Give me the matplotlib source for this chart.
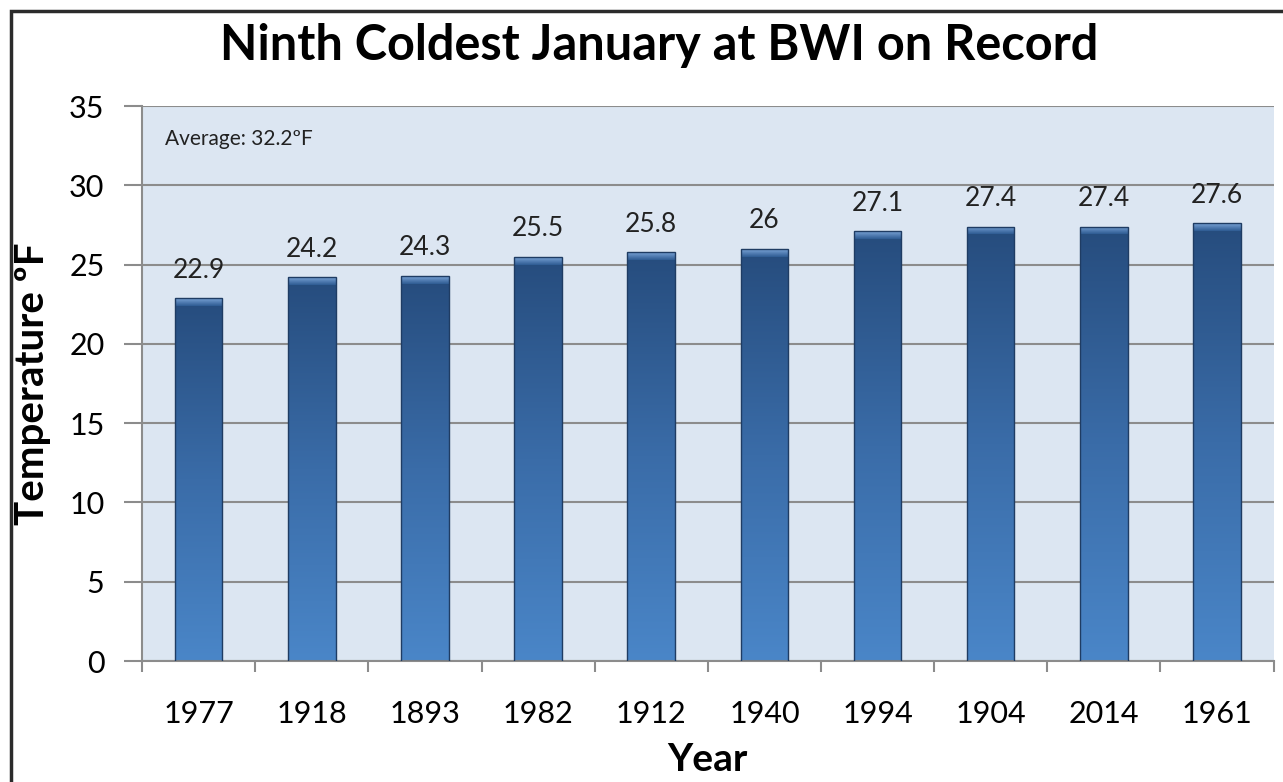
import numpy as np
import matplotlib
matplotlib.use("Agg")
import matplotlib.pyplot as plt
from matplotlib.patches import Rectangle
from matplotlib.colors import LinearSegmentedColormap

plt.rcParams['font.family'] = ['Lato', 'DejaVu Sans']

years = ["1977", "1918", "1893", "1982", "1912", "1940", "1994", "1904", "2014", "1961"]
temps = [22.9, 24.2, 24.3, 25.5, 25.8, 26, 27.1, 27.4, 27.4, 27.6]
labels = ["22.9", "24.2", "24.3", "25.5", "25.8", "26", "27.1", "27.4", "27.4", "27.6"]
yticks = [0, 5, 10, 15, 20, 25, 30, 35]

fig = plt.figure(figsize=(12.83, 7.82), dpi=100)
ax = fig.add_axes([0.1107, 0.1547, 0.882, 0.7097])
ax.set_facecolor("#dce6f2")

# figure frame (runs off the right / bottom edge like the original)
fig.patches.append(Rectangle((11 / 1283, -0.05), 1.1, 1 - 11 / 782 + 0.05,
                             transform=fig.transFigure, fill=False,
                             ec="#2b2b2b", lw=2.5, zorder=0))

cmap = LinearSegmentedColormap.from_list("bar", ["#4a86c8", "#3a6ca8", "#264c7d"])
grad = np.linspace(0, 1, 256).reshape(-1, 1)

x = np.arange(len(years))
bars = ax.bar(x, temps, width=0.42, color="none", edgecolor="#1f3c63",
              linewidth=1.0, zorder=3)
for b in bars:
    bx, by = b.get_x(), b.get_y()
    w, h = b.get_width(), b.get_height()
    im = ax.imshow(grad, cmap=cmap, aspect="auto", origin="lower",
                   extent=[bx, bx + w, by, by + h], zorder=2)
    im.set_clip_path(b)
    # lighter bevel at the top of each bar
    top = ax.imshow(np.linspace(0, 1, 32).reshape(-1, 1), aspect="auto",
                    origin="lower", extent=[bx, bx + w, by + h - 0.5, by + h],
                    cmap=LinearSegmentedColormap.from_list("t", ["#2f5c93", "#7aa3d6"]),
                    zorder=2.5)
    top.set_clip_path(b)

for xi, t, lab in zip(x, temps, labels):
    ax.annotate(lab, (xi, t), xytext=(0, 11), textcoords="offset points",
                ha="center", va="bottom", fontsize=19, color="#222222")

ax.set_xlim(-0.5, len(years) - 0.5)
ax.set_ylim(0, 35)
ax.set_yticks(yticks)
ax.set_xticks(x)
ax.set_xticklabels(years)
ax.set_xticks(np.arange(-0.5, len(years)), minor=True)
ax.tick_params(axis="x", which="major", length=0, pad=28, labelsize=22)
ax.tick_params(axis="x", which="minor", length=8, width=1.5, color="#8c8c8c")
ax.tick_params(axis="y", length=13, width=1.5, color="#8c8c8c", pad=14, labelsize=22)

ax.yaxis.grid(True, color="#8c8c8c", lw=1.5, zorder=1)
ax.set_axisbelow(True)
for s in ["top", "right"]:
    ax.spines[s].set_visible(False)
for s in ["left", "bottom"]:
    ax.spines[s].set_color("#8c8c8c")
    ax.spines[s].set_linewidth(1.5)

ax.text(0.02, 0.94, "Average: 32.2ºF", transform=ax.transAxes,
        fontsize=15, va="center", ha="left", color="#222222")

ax.set_xlabel("Year", fontsize=28, fontweight="bold", labelpad=10)
ax.set_ylabel("Temperature ºF", fontsize=29, fontweight="bold")
ax.yaxis.set_label_coords(-0.08, 0.5)
fig.text(0.514, 0.942, "Ninth Coldest January at BWI on Record",
         fontsize=35, fontweight="bold", ha="center", va="center")

fig.savefig("out.png", dpi=100)
